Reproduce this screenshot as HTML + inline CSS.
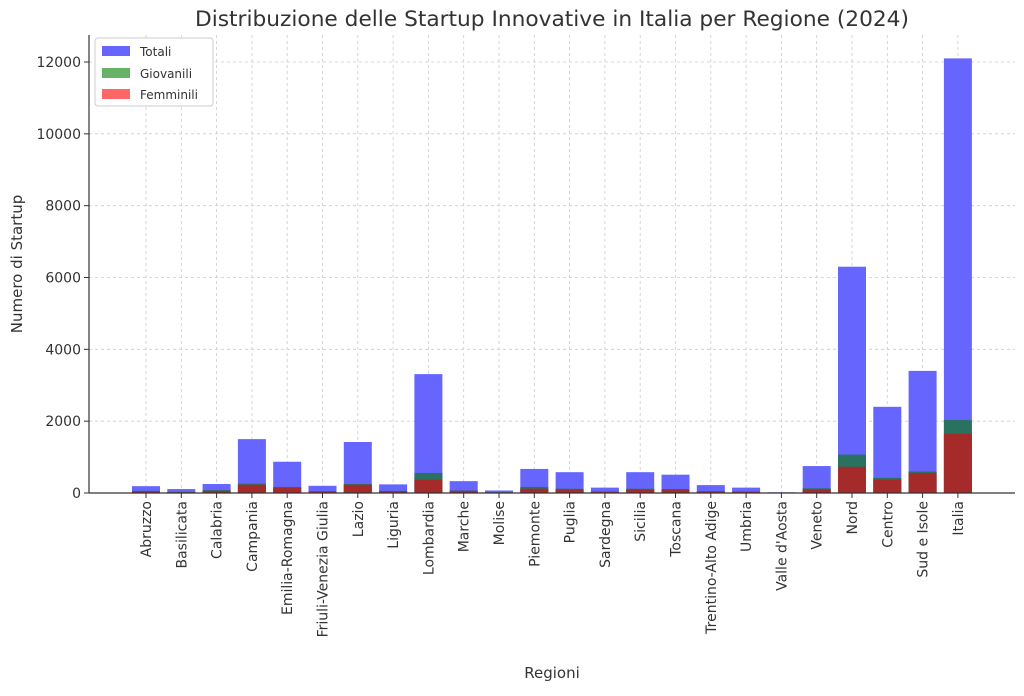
<!DOCTYPE html><html><head><style>body{margin:0;background:#fff}svg{font-family:"DejaVu Sans","Liberation Sans",sans-serif}</style></head><body>
<svg width="1024" height="691" xmlns="http://www.w3.org/2000/svg">
<rect width="1024" height="691" fill="#fff"/>
<text x="552" y="26" font-size="21.7" text-anchor="middle" fill="#333">Distribuzione delle Startup Innovative in Italia per Regione (2024)</text>
<g id="g"></g>
<line x1="89" y1="35" x2="89" y2="493" stroke="#333" stroke-width="1.2"/>
<line x1="89" y1="493" x2="1015" y2="493" stroke="#333" stroke-width="1.2"/>
<text x="552" y="678" font-size="15" text-anchor="middle" fill="#333">Regioni</text>
<text transform="translate(22,264) rotate(-90)" font-size="15" text-anchor="middle" fill="#333">Numero di Startup</text>
<rect x="95" y="38" width="118" height="68" fill="#fff" stroke="#ccc" rx="3"/>
<rect x="102" y="46" width="28" height="10" fill="#6666ff"/><text x="140" y="56" font-size="12" fill="#333">Totali</text>
<rect x="102" y="68" width="28" height="10" fill="#66b266"/><text x="140" y="78" font-size="12" fill="#333">Giovanili</text>
<rect x="102" y="89" width="28" height="10" fill="#ff6666"/><text x="140" y="99" font-size="12" fill="#333">Femminili</text>
</svg>
<script>
const d=[["Abruzzo",190,60,40],["Basilicata",110,30,20],["Calabria",250,80,60],["Campania",1500,260,230],["Emilia-Romagna",870,170,150],["Friuli-Venezia Giulia",200,50,40],["Lazio",1420,250,230],["Liguria",240,60,50],["Lombardia",3310,560,370],["Marche",330,70,60],["Molise",70,20,15],["Piemonte",670,170,120],["Puglia",580,120,100],["Sardegna",150,40,30],["Sicilia",580,120,100],["Toscana",510,110,100],["Trentino-Alto Adige",220,50,40],["Umbria",150,40,30],["Valle d'Aosta",20,5,5],["Veneto",750,130,100],["Nord",6300,1070,730],["Centro",2400,420,370],["Sud e Isole",3400,600,560],["Italia",12100,2030,1650]];
const g=document.getElementById('g');let s='';const Y=v=>493-v*431/12000;
for(let v=0;v<=12000;v+=2000){const y=Y(v);s+=`<line x1="89" x2="1015" y1="${y}" y2="${y}" stroke="#ccc" stroke-dasharray="3,3" stroke-width="0.8"/><line x1="84" x2="89" y1="${y}" y2="${y}" stroke="#333"/><text x="81" y="${y+5}" font-size="14" text-anchor="end" fill="#333">${v}</text>`;}
d.forEach((r,i)=>{const x=146+i*35.3;s+=`<line x1="${x}" x2="${x}" y1="35" y2="493" stroke="#ccc" stroke-dasharray="3,3" stroke-width="0.8"/>`;});
d.forEach((r,i)=>{const x=146+i*35.3;
s+=`<rect x="${x-14}" y="${Y(r[1])}" width="28" height="${r[1]*431/12000}" fill="#6666ff"/>`;
s+=`<rect x="${x-14}" y="${Y(r[2])}" width="28" height="${r[2]*431/12000}" fill="#2a7260"/>`;
s+=`<rect x="${x-14}" y="${Y(r[3])}" width="28" height="${r[3]*431/12000}" fill="#a52a2a"/>`;
s+=`<line x1="${x}" x2="${x}" y1="493" y2="498" stroke="#333"/><text transform="translate(${x+5},501) rotate(-90)" font-size="14" text-anchor="end" fill="#333">${r[0]}</text>`;});
g.innerHTML=s;
</script>
</body></html>
